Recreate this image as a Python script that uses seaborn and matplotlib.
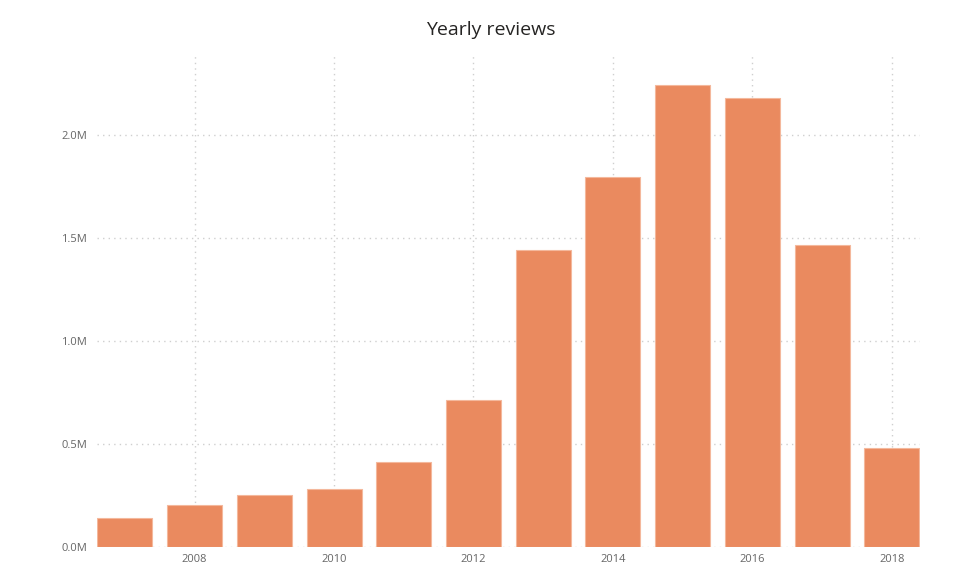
import matplotlib
matplotlib.use("Agg")
import matplotlib.pyplot as plt
import seaborn as sns
import pandas as pd
from matplotlib.ticker import FuncFormatter

years = [2007, 2008, 2009, 2010, 2011, 2012, 2013, 2014, 2015, 2016, 2017, 2018]
reviews = [141000, 204000, 252000, 282000, 413000, 714000, 1442000, 1796000, 2243000, 2184000, 1466000, 481000]
tick_years = [2008, 2010, 2012, 2014, 2016, 2018]
y_ticks = [0, 500000, 1000000, 1500000, 2000000]

df = pd.DataFrame({"year": [str(y) for y in years], "reviews": reviews})

sns.set_theme(style="white")
plt.rcParams['font.family'] = ['Open Sans', 'DejaVu Sans']

fig = plt.figure(figsize=(9.55, 5.8), dpi=100)
ax = fig.add_axes([0.1016, 0.0569, 0.8614, 0.848])

sns.barplot(data=df, x="year", y="reviews", color="#EA8A5F", saturation=1,
            width=0.79, edgecolor="#F4B89C", linewidth=0.8, ax=ax, zorder=3)

ax.set_xlim(-0.4, len(years) - 0.6)
ax.set_ylim(0, 2390000)
ax.set_xticks([years.index(y) for y in tick_years])
ax.set_xticklabels([str(y) for y in tick_years])
ax.set_yticks(y_ticks)
ax.yaxis.set_major_formatter(FuncFormatter(lambda v, p: f"{v/1e6:.1f}M"))
ax.tick_params(axis="both", labelsize=8, colors="#666666", length=0, pad=5)
ax.tick_params(axis="y", pad=7)

ax.grid(True, axis="both", linestyle=(0, (1, 3)), color="#cfcfcf", linewidth=1, zorder=0)
ax.set_axisbelow(True)
for s in ax.spines.values():
    s.set_visible(False)
ax.set_xlabel("")
ax.set_ylabel("")

fig.text(0.514, 0.948, "Yearly reviews", ha="center", va="center", fontsize=14, color="#252423")

fig.savefig("out.png", dpi=100, facecolor="white")
